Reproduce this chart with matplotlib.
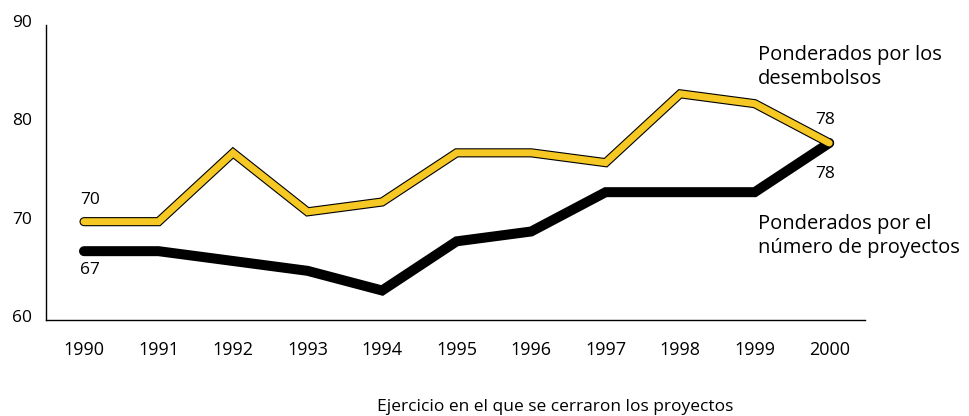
import matplotlib
matplotlib.use("Agg")
import matplotlib.pyplot as plt
import matplotlib.transforms as mtransforms

years = [1990, 1991, 1992, 1993, 1994, 1995, 1996, 1997, 1998, 1999, 2000]
desembolsos = [70, 70, 77, 71, 72, 77, 77, 76, 83, 82, 78]
proyectos = [67, 67, 66, 65, 63, 68, 69, 73, 73, 73, 78]
yticks = [60, 70, 80, 90]
label_desemb = ["Ponderados por los", "desembolsos"]
label_proy = ["Ponderados por el", "número de proyectos"]
xlabel = "Ejercicio en el que se cerraron los proyectos"

plt.rcParams['font.family'] = ['Open Sans', 'DejaVu Sans']

W, H = 970, 416
fig = plt.figure(figsize=(W / 100, H / 100), dpi=100)
ax = fig.add_axes([46/W, 1-320/H, (865-46)/W, (320-25)/H])

yellow = '#F5C823'
ax.plot(years, proyectos, color='black', lw=7.2, solid_capstyle='round',
        solid_joinstyle='miter', zorder=2)
ax.plot(years, desembolsos, color='black', lw=6.6, solid_capstyle='round',
        solid_joinstyle='miter', zorder=3)
ax.plot(years, desembolsos, color=yellow, lw=5.0, solid_capstyle='round',
        solid_joinstyle='miter', zorder=4)

ax.set_xlim(1989.49, 2000.48)
ax.set_ylim(60, 90)
ax.spines['top'].set_visible(False)
ax.spines['right'].set_visible(False)
ax.spines['left'].set_linewidth(1.0)
ax.spines['bottom'].set_linewidth(1.0)
ax.set_xticks(years)
ax.set_xticklabels([str(y) for y in years], fontsize=13)
ax.set_yticks(yticks)
ax.set_yticklabels([str(v) for v in yticks], fontsize=12.5)
ax.tick_params(axis='both', length=0)
ax.tick_params(axis='x', pad=15)
ax.tick_params(axis='y', pad=10)
off = mtransforms.ScaledTranslation(0, 4/100, fig.dpi_scale_trans)
for lbl in ax.get_yticklabels():
    lbl.set_transform(lbl.get_transform() + off)

def px(v):
    return v * 0.72

ax.annotate(str(desembolsos[0]), (years[0], desembolsos[0]), xytext=(px(-4), px(22)),
            textcoords='offset points', fontsize=12.5, ha='left', va='center')
ax.annotate(str(proyectos[0]), (years[0], proyectos[0]), xytext=(px(-4), px(-19)),
            textcoords='offset points', fontsize=12.5, ha='left', va='center')
ax.annotate(str(desembolsos[-1]), (years[-1], desembolsos[-1]), xytext=(px(-14), px(23)),
            textcoords='offset points', fontsize=12.5, ha='left', va='center')
ax.annotate(str(proyectos[-1]), (years[-1], proyectos[-1]), xytext=(px(-14), px(-31)),
            textcoords='offset points', fontsize=12.5, ha='left', va='center')

for i, line in enumerate(label_desemb):
    fig.text(758/W, 1-(60 + 24*i)/H, line, fontsize=14.5, ha='left', va='baseline')
for i, line in enumerate(label_proy):
    fig.text(758/W, 1-(229 + 24*i)/H, line, fontsize=14.5, ha='left', va='baseline')
fig.text(555/W, 1-407/H, xlabel, fontsize=12.5, ha='center', va='center')

fig.savefig('out.png', dpi=100)
